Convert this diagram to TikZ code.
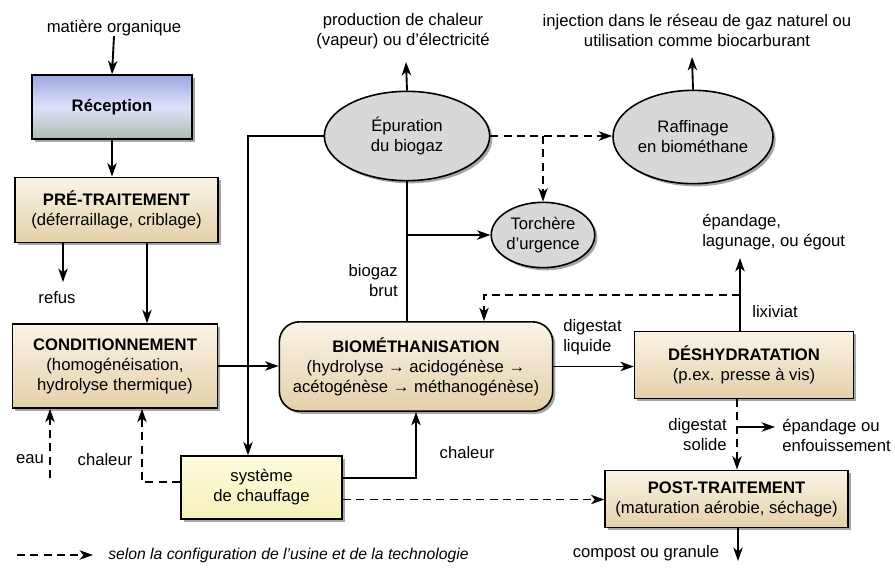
\documentclass[tikz,border=0pt]{standalone}
\usepackage{fontspec}
\setmainfont{Liberation Sans}
\usetikzlibrary{positioning,arrows.meta,calc,shapes.geometric,shadows}

\definecolor{boxtop}{RGB}{251,244,230}
\definecolor{boxbot}{RGB}{228,208,170}
\definecolor{receptop}{RGB}{158,166,222}
\definecolor{recepmid}{RGB}{222,226,252}
\definecolor{recepbot}{RGB}{172,188,172}
\definecolor{chaufftop}{RGB}{253,252,222}
\definecolor{chauffbot}{RGB}{246,240,186}
\definecolor{ovalfill}{RGB}{216,216,216}

\tikzset{
  txt/.style={font=\fontsize{12.5}{15}\selectfont, align=center, inner sep=0pt},
  shad/.style={drop shadow={shadow xshift=2pt,shadow yshift=-2pt,fill=black,opacity=0.35}},
  procbox/.style={draw, line width=1.2pt, shad, top color=boxtop, bottom color=boxbot, txt},
  ovalbox/.style={draw, ellipse, line width=1.2pt, shad, fill=ovalfill, txt},
  arr/.style={line width=1.4pt, -{Stealth[length=10pt,width=7pt,inset=2.8pt]}},
  lin/.style={line width=1.4pt},
  dsh/.style={dash pattern=on 6pt off 4pt}
}

\begin{document}
\begin{tikzpicture}[x=0.75pt,y=-0.75pt]
\useasboundingbox (0,0) rectangle (895,568);

% process boxes
\node[draw, line width=1.2pt, shad, top color=receptop, bottom color=recepbot, middle color=recepmid, txt,
  minimum width=120pt, minimum height=48pt] (recep) at (112,107) {\textbf{Réception}};
\node[procbox, minimum width=152pt, minimum height=49pt] (pretrait) at (116.5,210)
  {\textbf{PRÉ-TRAITEMENT}\\(déferraillage, criblage)};
\node[procbox, minimum width=154pt, minimum height=63pt] (cond) at (115,366)
  {\textbf{CONDITIONNEMENT}\\(homogénéisation,\\hydrolyse thermique)};
\node[procbox, rounded corners=15pt, minimum width=205pt, minimum height=67pt] (biometh) at (416,366.5)
  {\textbf{BIOMÉTHANISATION}\\(hydrolyse → acidogénèse →\\acétogénèse → méthanogénèse)};
\node[draw, line width=1.2pt, shad, top color=chaufftop, bottom color=chauffbot, txt,
  minimum width=121pt, minimum height=47pt] (chauff) at (261.5,487.5) {système\\de chauffage};
\node[procbox, minimum width=164pt, minimum height=50pt] (deshy) at (744,365)
  {\textbf{DÉSHYDRATATION}\\(p.ex. presse à vis)};
\node[procbox, minimum width=182pt, minimum height=43pt] (posttrait) at (726.5,499)
  {\textbf{POST-TRAITEMENT}\\(maturation aérobie, séchage)};

% gas treatment
\node[ovalbox, minimum width=124pt, minimum height=67pt] (epur) at (407,136) {Épuration\\du biogaz};
\node[ovalbox, minimum width=74pt, minimum height=49pt] (torch) at (543,235) {Torchère\\d’urgence};
\node[ovalbox, minimum width=120pt, minimum height=70pt] (raff) at (693,137) {Raffinage\\en biométhane};

% labels
\node[txt] (matiere) at (114,28) {matière organique};
\node[txt] (prod) at (403,31) {production de chaleur\\(vapeur) ou d’électricité};
\node[txt] (inject) at (697,30) {injection dans le réseau de gaz naturel ou\\utilisation comme biocarburant};
\node[txt, anchor=west, align=left] (epand) at (702,232) {épandage,\\lagunage, ou égout};
\node[txt] (refus) at (57,298) {refus};
\node[txt, anchor=east, align=right] (biogaz) at (398,281) {biogaz\\brut};
\node[txt, anchor=west, align=left] (digliq) at (563,337) {digestat\\liquide};
\node[txt] (lixiv) at (775,312) {lixiviat};
\node[txt, anchor=east, align=right] (digsol) at (727,435) {digestat\\solide};
\node[txt, anchor=west, align=left] (enfou) at (782,435) {épandage ou\\enfouissement};
\node[txt] (eau) at (30,459) {eau};
\node[txt] (chalcond) at (105,460) {chaleur};
\node[txt] (chalbio) at (467,453) {chaleur};
\node[txt] (compost) at (646,553) {compost ou granule};
\node[txt, anchor=west, font=\fontsize{11.8}{14}\selectfont\itshape] (legend) at (108,555)
  {selon la configuration de l’usine et de la technologie};

% free ends
\coordinate (prodtip) at (406,62);
\coordinate (injtip) at (692,57);
\coordinate (refustip) at (63,282);
\coordinate (pcx) at (147,0);
\coordinate (chx) at (248,0);
\coordinate (eaubot) at (50,478);
\coordinate (condx) at (142,0);
\coordinate (lixtip) at (740,258);
\coordinate (recirc) at (484,295);
\coordinate (solx) at (737,427);
\coordinate (enfoutip) at (775,427);
\coordinate (comptip) at (738,561);
\coordinate (legA) at (17,555);
\coordinate (legB) at (93,555);

% solid flows
\draw[arr] (matiere.south) -- (recep.north);
\draw[arr] (recep.south) -- (recep.south |- pretrait.north);
\draw[arr] (pretrait.south -| refustip) -- (refustip);
\draw[arr] (pretrait.south -| pcx) -- (cond.north -| pcx);
\draw[arr] (cond.east) -- (cond.east -| biometh.west);
\draw[arr] (epur.west) -| (chauff.north -| chx);
\draw[arr] (epur.north) -- (prodtip);
\draw[lin] (epur.south) -- (epur.south |- biometh.north);
\draw[arr] (epur.south |- torch.west) -- (torch.west);
\draw[arr] (raff.north) -- (injtip);
\draw[arr] ([yshift=7pt]chauff.east) -| (biometh.south);
\draw[arr] (biometh.east) -- (biometh.east -| deshy.west);
\draw[arr] (deshy.north -| lixtip) -- (lixtip);
\draw[arr] (solx) -- (enfoutip);
\draw[arr] (posttrait.south -| comptip) -- (comptip);

% optional flows
\draw[arr, dsh] (epur.east) -- (epur.east -| raff.west);
\draw[arr, dsh] (epur.east -| torch.north) -- (torch.north);
\draw[arr, dsh] ([yshift=-9pt]chauff.east) -- ([yshift=-9pt]chauff.east -| posttrait.west);
\draw[arr, dsh] ([yshift=4pt]chauff.west) -| (cond.south -| condx);
\draw[arr, dsh] (eaubot) -- (eaubot |- cond.south);
\draw[arr, dsh] (recirc -| lixtip) -| (biometh.north -| recirc);
\draw[arr, dsh] (deshy.south -| solx) -- (posttrait.north -| solx);
\draw[arr, dsh] (legA) -- (legB);
\end{tikzpicture}
\end{document}
